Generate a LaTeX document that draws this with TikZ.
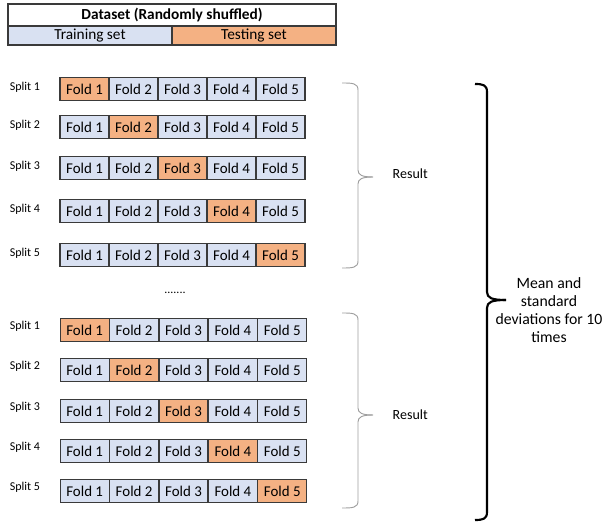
\documentclass[tikz,border=0pt]{standalone}
\usepackage{fontspec}
\setmainfont{Carlito}
\definecolor{trainc}{HTML}{D9E1F2}
\definecolor{testc}{HTML}{F4B183}
\definecolor{edgec}{HTML}{3A3A3A}
\begin{document}
\begin{tikzpicture}[x=0.75pt,y=-0.75pt,
  fold/.style={draw=edgec,line width=0.8pt,fill=trainc,minimum width=36.75pt,minimum height=17.5pt,inner sep=0pt,font=\fontsize{11.2}{13}\selectfont,anchor=center},
  testfold/.style={fold,fill=testc},
  splitlbl/.style={font=\fontsize{9}{10}\selectfont,anchor=center},
  hdr/.style={draw=edgec,line width=0.8pt,inner sep=0pt,font=\fontsize{11.5}{13}\selectfont},
  smallbrace/.style={draw=gray!75,line width=0.7pt},
  bigbrace/.style={draw=black,line width=1.6pt},
  restext/.style={font=\fontsize{10.5}{12}\selectfont,anchor=west}]
\useasboundingbox (0,0) rectangle (604,523);
% header
\node[hdr,minimum width=246pt,minimum height=16.5pt,fill=white,font=\fontsize{11.5}{13}\selectfont\bfseries] (ds) at (172,15) {Dataset (Randomly shuffled)};
\node[hdr,minimum width=123pt,minimum height=14.25pt,fill=trainc] (train) at (90,35.5) {Training set};
\node[hdr,minimum width=123pt,minimum height=14.25pt,fill=testc] (test) at (254,35.5) {Testing set};
% top group
\foreach \r/\yy in {1/89,2/127,3/168,4/211,5/255}{
  \node[splitlbl] (ts\r) at (25,\yy-2) {Split \r};
  \foreach \i in {1,...,5}{
    \ifnum\i=\r
      \node[testfold] (t\r\i) at ({60+24.5+49*(\i-1)},\yy) {Fold \i};
    \else
      \node[fold] (t\r\i) at ({60+24.5+49*(\i-1)},\yy) {Fold \i};
    \fi
  }
}
\node[font=\fontsize{9}{10}\selectfont] (dots) at (175,293) {.......};
% bottom group
\foreach \r/\yy in {1/330,2/370,3/411,4/451,5/491}{
  \node[splitlbl] (bs\r) at (25,\yy-4) {Split \r};
  \foreach \i in {1,...,5}{
    \ifnum\i=\r
      \node[testfold] (b\r\i) at ({60+24.7+49.4*(\i-1)},\yy) {Fold \i};
    \else
      \node[fold] (b\r\i) at ({60+24.7+49.4*(\i-1)},\yy) {Fold \i};
    \fi
  }
}
% result braces
\coordinate (r1tip) at (373,177);
\coordinate (r2tip) at (373,415);
\draw[smallbrace] (342,83) .. controls (352,83) and (358,83) .. (358,90) -- (358,170) .. controls (358,175) and (362,177) .. (r1tip);
\draw[smallbrace] (342,268) .. controls (352,268) and (358,268) .. (358,261) -- (358,184) .. controls (358,179) and (362,177) .. (r1tip);
\node[restext] (res1) at (388,174) {Result};
\draw[smallbrace] (342,313) .. controls (352,313) and (358,313) .. (358,320) -- (358,408) .. controls (358,413) and (362,415) .. (r2tip);
\draw[smallbrace] (342,508) .. controls (352,508) and (358,508) .. (358,501) -- (358,422) .. controls (358,417) and (362,415) .. (r2tip);
\node[restext] (res2) at (388,415) {Result};
% big brace
\coordinate (bigtip) at (506,300);
\draw[bigbrace] (475,84) .. controls (483,84) and (487,85) .. (487,92) -- (487,292) .. controls (487,298) and (492,300) .. (bigtip);
\draw[bigbrace] (475,520) .. controls (483,520) and (487,519) .. (487,512) -- (487,308) .. controls (487,302) and (492,300) .. (bigtip);
\node[align=center,font=\fontsize{11.8}{13.5}\selectfont] (mean) at (549,310) {Mean and\\standard\\deviations for 10\\times};
\end{tikzpicture}
\end{document}
